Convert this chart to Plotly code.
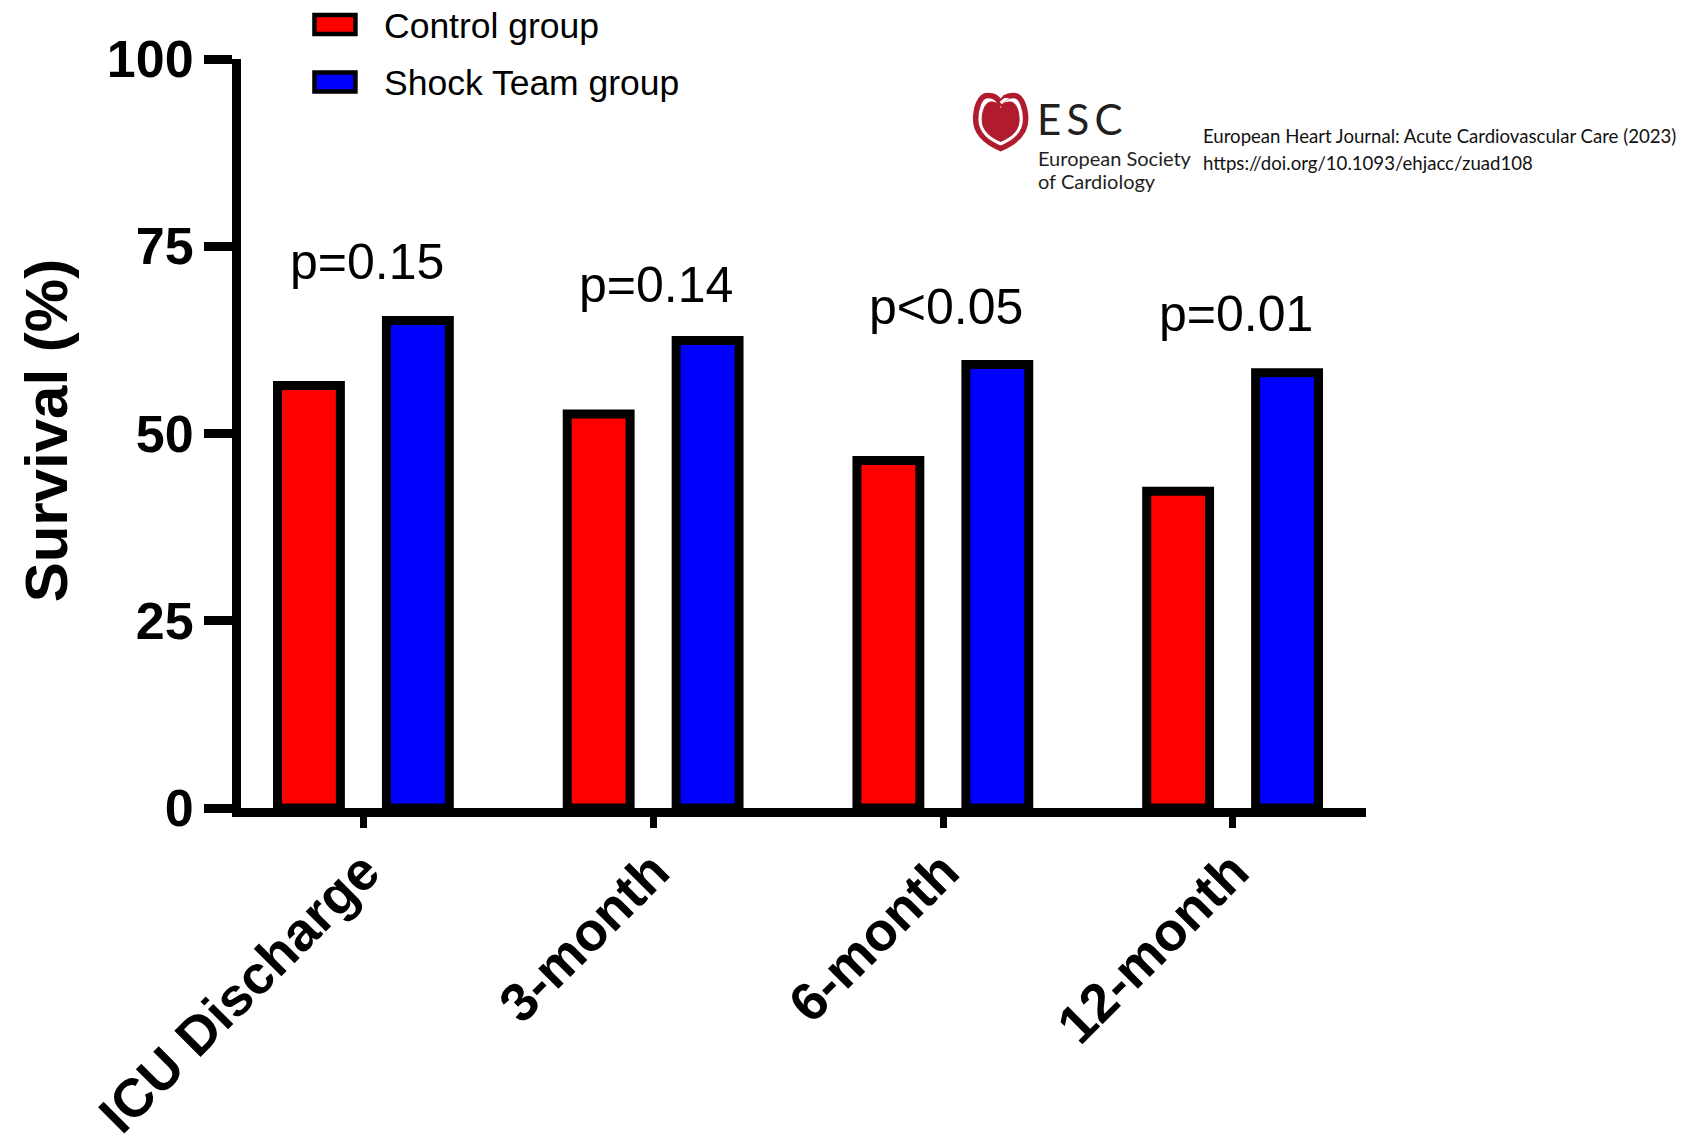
import plotly.graph_objects as go

# ---------------- data ----------------
categories = ["ICU Discharge", "3-month", "6-month", "12-month"]
control_values = [56.4, 52.6, 46.4, 42.3]
shock_values = [65.1, 62.4, 59.2, 58.1]
series_names = ["Control group", "Shock Team group"]
p_labels = ["p=0.15", "p=0.14", "p<0.05", "p=0.01"]
p_label_y = [72.9, 69.8, 66.9, 65.9]
y_ticks = [0, 25, 50, 75, 100]

# ---------------- layout geometry (pixels) ----------------
# the page body has an 8px default margin, so the figure is drawn 8px smaller
OFF = 8
W, H = 1690 - OFF, 1148 - OFF
L, T = 240.5 - OFF, 59 - OFF
R, B = W - (1366 - OFF), H - (808.5 - OFF)
PW, PH = W - L - R, H - T - B

def px(x):
    """page-pixel x -> paper coordinate"""
    return (x - OFF - L) / PW

def py(y):
    """page-pixel y -> paper coordinate"""
    return (H - B - (y - OFF)) / PH

RED, BLUE = "#ff0000", "#0000ff"
FONT = "Liberation Sans, Arial, Helvetica, sans-serif"

fig = go.Figure()
fig.add_trace(go.Bar(
    x=categories, y=control_values, name=series_names[0],
    marker=dict(color=RED, line=dict(color="black", width=9)),
    offset=-0.297, width=0.217, showlegend=False,
))
fig.add_trace(go.Bar(
    x=categories, y=shock_values, name=series_names[1],
    marker=dict(color=BLUE, line=dict(color="black", width=9)),
    offset=0.079, width=0.217, showlegend=False,
))

# p-value annotations
for cat, lab, yv in zip(categories, p_labels, p_label_y):
    fig.add_annotation(x=cat, y=yv, xref="x", yref="y", text=lab, showarrow=False,
                       xshift=3, font=dict(family=FONT, size=50, color="black"),
                       xanchor="center", yanchor="middle")

# manual legend (wide swatches)
leg_rows = [(24.5, RED), (82, BLUE)]
for (cy, col), name in zip(leg_rows, series_names):
    fig.add_shape(type="rect", xref="paper", yref="paper",
                  x0=px(314), x1=px(355), y0=py(cy - 9.5), y1=py(cy + 9.5),
                  fillcolor=col, line=dict(color="black", width=4.5))
    fig.add_annotation(x=px(383), y=py(cy + 1), xref="paper", yref="paper", text=name,
                       showarrow=False, xanchor="left", yanchor="middle", borderpad=0,
                       font=dict(family=FONT, size=35.5, color="black"))

# y axis title (placed as annotation for exact position)
fig.add_annotation(x=px(46), y=py(431), xref="paper", yref="paper", text="Survival (%)",
                   showarrow=False, textangle=-90, xanchor="center", yanchor="middle",
                   font=dict(family=FONT, size=60, color="black", weight="bold"))

# ESC logo (heart)
def heart_path(cx, top, bottom, hw):
    h = bottom - top
    pts = [
        ("M", [(0, 0.2)]),
        ("C", [(-0.06, 0.04), (-0.3, 0.0), (-0.52, 0.0)]),
        ("C", [(-0.86, 0.0), (-1.0, 0.26), (-1.0, 0.45)]),
        ("C", [(-1.0, 0.75), (-0.5, 0.9), (0, 1.0)]),
        ("C", [(0.5, 0.9), (1.0, 0.75), (1.0, 0.45)]),
        ("C", [(1.0, 0.26), (0.86, 0.0), (0.52, 0.0)]),
        ("C", [(0.3, 0.0), (0.06, 0.04), (0, 0.2)]),
    ]
    s = ""
    for cmd, pl in pts:
        s += cmd + " " + " ".join(f"{px(cx + a * hw):.5f},{py(top + b * h):.5f}" for a, b in pl) + " "
    return s + "Z"

ESC_RED = "#b01c2e"
fig.add_shape(type="path", xref="paper", yref="paper",
              path=heart_path(1000.5, 95.5, 148.5, 25), fillcolor="rgba(0,0,0,0)",
              line=dict(color=ESC_RED, width=5.5))
fig.add_shape(type="path", xref="paper", yref="paper",
              path=heart_path(1000.5, 102, 141.5, 18.5), fillcolor=ESC_RED,
              line=dict(color=ESC_RED, width=1))
fig.add_shape(type="line", xref="paper", yref="paper",
              x0=px(1000.5), x1=px(1008), y0=py(103), y1=py(97),
              line=dict(color="white", width=3))
fig.add_shape(type="line", xref="paper", yref="paper",
              x0=px(1003), x1=px(1009), y0=py(96.5), y1=py(96.5),
              line=dict(color=ESC_RED, width=3))

LOGO_FONT = "Lato, Noto Sans, sans-serif"
fig.add_annotation(x=px(1035), y=py(119.5), xref="paper", yref="paper",
                   text="E\u2009S\u2009C",
                   showarrow=False, xanchor="left", yanchor="middle",
                   font=dict(family=LOGO_FONT, size=42, color="#231f20"))
fig.add_annotation(x=px(1036), y=py(158), xref="paper", yref="paper", text="European Society",
                   showarrow=False, xanchor="left", yanchor="middle",
                   font=dict(family=LOGO_FONT, size=20, color="#231f20"))
fig.add_annotation(x=px(1036), y=py(181), xref="paper", yref="paper", text="of Cardiology",
                   showarrow=False, xanchor="left", yanchor="middle",
                   font=dict(family=LOGO_FONT, size=20, color="#231f20"))
fig.add_annotation(x=px(1201), y=py(136), xref="paper", yref="paper",
                   text="European Heart Journal: Acute Cardiovascular Care (2023)",
                   showarrow=False, xanchor="left", yanchor="middle",
                   font=dict(family=LOGO_FONT, size=18.6, color="#111111"))
fig.add_annotation(x=px(1201), y=py(163), xref="paper", yref="paper",
                   text="https://doi.org/10.1093/ehjacc/zuad108",
                   showarrow=False, xanchor="left", yanchor="middle",
                   font=dict(family=LOGO_FONT, size=18.6, color="#111111"))

fig.update_layout(
    width=W, height=H,
    margin=dict(l=L, r=R, t=T, b=B, pad=0, autoexpand=False),
    paper_bgcolor="white", plot_bgcolor="white",
    barmode="overlay",
    showlegend=False,
    xaxis=dict(
        type="category", range=[-0.423, 3.460], automargin=False,
        showline=True, linecolor="black", linewidth=9,
        ticks="outside", ticklen=11, tickwidth=7, tickcolor="black",
        tickangle=-45, showgrid=False, zeroline=False, ticklabelstandoff=-10,
        tickfont=dict(family=FONT, size=54, color="black", weight="bold"),
    ),
    yaxis=dict(
        range=[0, 100], tickvals=y_ticks, ticktext=[str(v) for v in y_ticks],
        automargin=False,
        showline=True, linecolor="black", linewidth=9,
        ticks="outside", ticklen=28, tickwidth=9, tickcolor="black",
        showgrid=False, zeroline=False,
        tickfont=dict(family=FONT, size=52, color="black", weight="bold"),
    ),
)

fig.write_html("out.html")
